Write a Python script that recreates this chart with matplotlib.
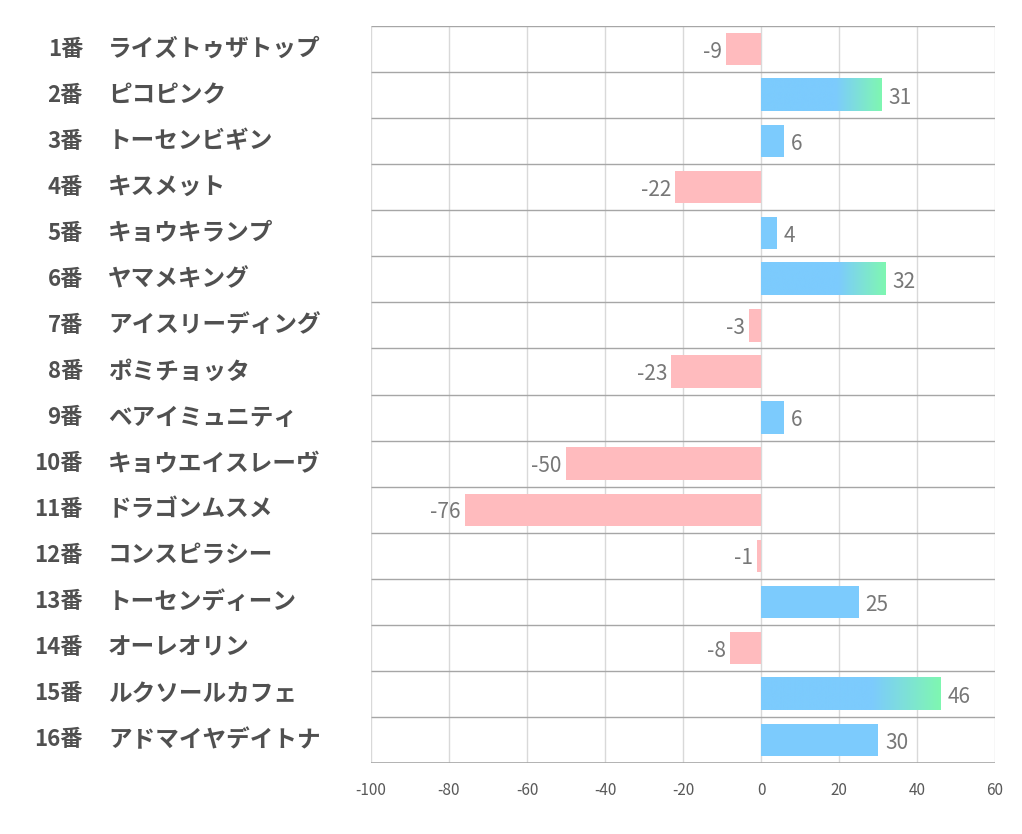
import numpy as np
import matplotlib.pyplot as plt
import matplotlib.transforms as mtransforms
from matplotlib.colors import LinearSegmentedColormap

plt.rcParams['font.family'] = ['Noto Sans CJK JP', 'DejaVu Sans']

# データ
numbers = ['1番', '2番', '3番', '4番', '5番', '6番', '7番', '8番',
           '9番', '10番', '11番', '12番', '13番', '14番', '15番', '16番']
names = ['ライズトゥザトップ', 'ピコピンク', 'トーセンビギン', 'キスメット',
         'キョウキランプ', 'ヤマメキング', 'アイスリーディング', 'ポミチョッタ',
         'ベアイミュニティ', 'キョウエイスレーヴ', 'ドラゴンムスメ', 'コンスピラシー',
         'トーセンディーン', 'オーレオリン', 'ルクソールカフェ', 'アドマイヤデイトナ']
values = [-9, 31, 6, -22, 4, 32, -3, -23, 6, -50, -76, -1, 25, -8, 46, 30]
xticks = [-100, -80, -60, -40, -20, 0, 20, 40, 60]

blue = '#7ccbfd'
green = '#7ff7b1'
pink = '#ffbbbe'
bar_h = 0.7

fig = plt.figure(figsize=(10.22, 8.34), dpi=100)
ax = fig.add_axes([371 / 1022, 71 / 834, 624 / 1022, 737 / 834])

y = np.arange(len(values))
# 30超のバーはグラデーション画像で描くので、ここでは色なし
colors = ['none' if v > 30 else (blue if v > 0 else pink) for v in values]
ax.barh(y, values, height=bar_h, color=colors, zorder=2)

cmap = LinearSegmentedColormap.from_list('bg', [(0, blue), (0.62, blue), (1, green)])
grad = np.linspace(0, 1, 256).reshape(1, -1)
for i, v in enumerate(values):
    if v > 30:
        ax.imshow(grad, cmap=cmap, aspect='auto', zorder=3, interpolation='bilinear',
                  extent=(0, v, i + bar_h / 2, i - bar_h / 2))

# 数値ラベル
for i, v in enumerate(values):
    if v >= 0:
        ax.annotate(str(v), (v, i), xytext=(5, -2), textcoords='offset points',
                    ha='left', va='center', fontsize=15, color='#777777', zorder=4)
    else:
        ax.annotate(str(v), (v, i), xytext=(-3, -2), textcoords='offset points',
                    ha='right', va='center', fontsize=15, color='#777777', zorder=4)

ax.set_xlim(-100, 60)
ax.set_ylim(len(values) - 0.5, -0.5)

# 罫線
ax.vlines(xticks, -0.5, len(values) - 0.5, color='#d9d9d9', lw=1, zorder=1)
ax.hlines(np.arange(len(values)) - 0.5, -100, 60, color='#a6a6a6', lw=1, zorder=1)
ax.axhline(len(values) - 0.5, color='#a6a6a6', lw=1.2, zorder=4)

for s in ax.spines.values():
    s.set_visible(False)
ax.set_xticks(xticks)
ax.set_xticklabels([str(t) for t in xticks], fontsize=11, color='#595959')
ax.tick_params(axis='x', length=0, pad=14)
ax.set_yticks([])

# 馬番・馬名
trans = mtransforms.blended_transform_factory(fig.transFigure, ax.transData)
for i in range(len(values)):
    ax.text(83 / 1022, i, numbers[i], transform=trans, ha='right', va='center',
            fontsize=16, fontweight='bold', color='#505050', clip_on=False)
    ax.text(108 / 1022, i, names[i], transform=trans, ha='left', va='center',
            fontsize=17, fontweight='bold', color='#505050', clip_on=False)

fig.savefig('out.png', dpi=100, facecolor='white')
